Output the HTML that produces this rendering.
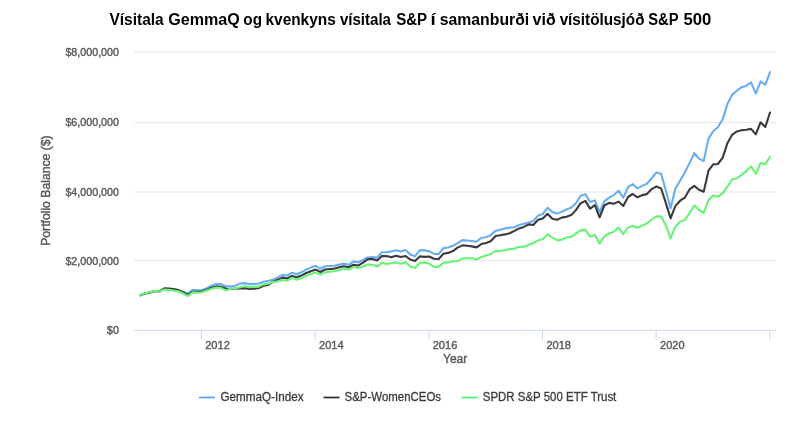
<!DOCTYPE html>
<html lang="is">
<head>
<meta charset="utf-8">
<title>Vísitala GemmaQ og kvenkyns vísitala S&amp;P</title>
<style>
html,body{margin:0;padding:0;background:#fff;}
body{width:800px;height:423px;overflow:hidden;font-family:"Liberation Sans",sans-serif;}
svg{display:block;}
.t text{font-family:"Liberation Sans",sans-serif;font-weight:bold;font-size:15.6px;fill:#000;}
.ax text{font-family:"Liberation Sans",sans-serif;font-size:11.7px;fill:#585858;stroke:#585858;stroke-width:0.4;}
.lg text{font-family:"Liberation Sans",sans-serif;font-size:12px;fill:#3c3c3c;stroke:#3c3c3c;stroke-width:0.3;}
.grid line{stroke:#e6e6e6;stroke-width:1;}
.xa line{stroke:#ccd6eb;stroke-width:1;}
.s{fill:none;stroke-width:2.1;stroke-linejoin:round;stroke-linecap:round;}
</style>
</head>
<body>
<svg width="800" height="423" viewBox="0 0 800 423">
<rect width="800" height="423" fill="#fff"/>
<g class="t">
<text y="24.6"><tspan x="109.43" textLength="54.29" lengthAdjust="spacingAndGlyphs">Vísitala</tspan> <tspan x="168.27" textLength="71.58" lengthAdjust="spacingAndGlyphs">GemmaQ</tspan> <tspan x="243.35" textLength="18.67" lengthAdjust="spacingAndGlyphs">og</tspan> <tspan x="265.48" textLength="70.32" lengthAdjust="spacingAndGlyphs">kvenkyns</tspan> <tspan x="339.89" textLength="51.13" lengthAdjust="spacingAndGlyphs">vísitala</tspan> <tspan x="396.13" textLength="30.75" lengthAdjust="spacingAndGlyphs">S&amp;P</tspan> <tspan x="430.55" textLength="5.14" lengthAdjust="spacingAndGlyphs">í</tspan> <tspan x="439.81" textLength="89.36" lengthAdjust="spacingAndGlyphs">samanburði</tspan> <tspan x="532.62" textLength="23.12" lengthAdjust="spacingAndGlyphs">við</tspan> <tspan x="559.64" textLength="84.92" lengthAdjust="spacingAndGlyphs">vísitölusjóð</tspan> <tspan x="648.17" textLength="30.05" lengthAdjust="spacingAndGlyphs">S&amp;P</tspan> <tspan x="683.43" textLength="27.86" lengthAdjust="spacingAndGlyphs">500</tspan></text>
</g>
<g class="grid"><line x1="134.2" x2="776.2" y1="51.90" y2="51.90"/><line x1="134.2" x2="776.2" y1="122.40" y2="122.40"/><line x1="134.2" x2="776.2" y1="192.05" y2="192.05"/><line x1="134.2" x2="776.2" y1="260.75" y2="260.75"/></g>
<g class="xa"><line x1="134.2" x2="776.2" y1="330.35" y2="330.35"/><line x1="201.3" x2="201.3" y1="330.35" y2="339.8"/><line x1="315.1" x2="315.1" y1="330.35" y2="339.8"/><line x1="428.8" x2="428.8" y1="330.35" y2="339.8"/><line x1="542.5" x2="542.5" y1="330.35" y2="339.8"/><line x1="656.1" x2="656.1" y1="330.35" y2="339.8"/><line x1="769.7" x2="769.7" y1="330.35" y2="339.8"/></g>
<g class="ax" text-anchor="end"><text x="119" y="56.3" textLength="53.6" lengthAdjust="spacingAndGlyphs">$8,000,000</text>
<text x="119" y="126.0" textLength="53.6" lengthAdjust="spacingAndGlyphs">$6,000,000</text>
<text x="119" y="195.5" textLength="53.6" lengthAdjust="spacingAndGlyphs">$4,000,000</text>
<text x="119" y="265.2" textLength="53.6" lengthAdjust="spacingAndGlyphs">$2,000,000</text>
<text x="119" y="333.8" textLength="12.2" lengthAdjust="spacingAndGlyphs">$0</text></g>
<g class="ax"><text x="205.2" y="349.0" textLength="24.6" lengthAdjust="spacingAndGlyphs">2012</text>
<text x="319.0" y="349.0" textLength="24.6" lengthAdjust="spacingAndGlyphs">2014</text>
<text x="432.7" y="349.0" textLength="24.6" lengthAdjust="spacingAndGlyphs">2016</text>
<text x="546.4" y="349.0" textLength="24.6" lengthAdjust="spacingAndGlyphs">2018</text>
<text x="660.0" y="349.0" textLength="24.6" lengthAdjust="spacingAndGlyphs">2020</text>
<text x="443.0" y="362.6" textLength="24.3" lengthAdjust="spacingAndGlyphs" style="font-size:12.3px">Year</text>
<text transform="translate(50.2,190.6) rotate(-90)" text-anchor="middle" textLength="110.5" style="font-size:12.4px" lengthAdjust="spacingAndGlyphs">Portfolio Balance ($)</text></g>
<polyline class="s" stroke="#68aef0" points="140.5,295.3 145.2,293.4 150.0,292.6 154.7,291.0 159.4,291.7 164.2,289.3 168.9,289.7 173.6,290.3 178.4,290.4 183.1,291.7 187.8,293.6 192.6,290.1 197.3,290.4 202.0,290.1 206.8,288.2 211.5,285.8 216.2,284.0 221.0,284.1 225.7,286.3 230.4,286.2 235.2,285.7 239.9,283.6 244.6,283.1 249.4,284.1 254.1,284.0 258.8,283.5 263.6,281.7 268.3,280.9 273.0,279.6 277.8,277.4 282.5,274.9 287.2,275.5 292.0,272.7 296.7,274.3 301.4,272.3 306.2,269.6 310.9,267.6 315.6,265.8 320.4,268.8 325.1,266.3 329.8,266.0 334.6,265.8 339.3,264.6 344.0,263.6 348.8,264.8 353.5,261.4 358.2,262.2 363.0,260.0 367.7,257.5 372.4,257.1 377.2,257.6 381.9,252.3 386.6,252.3 391.4,251.4 396.1,250.3 400.8,251.6 405.6,250.1 410.3,254.5 415.0,256.3 419.8,250.1 424.5,250.4 429.2,251.2 434.0,253.9 438.7,254.0 443.4,248.1 448.2,247.5 452.9,245.8 457.6,243.2 462.4,240.1 467.1,240.5 471.8,241.0 476.6,241.7 481.3,237.8 486.0,237.2 490.7,235.1 495.5,230.9 500.2,229.7 504.9,228.4 509.7,227.6 514.4,227.3 519.1,225.0 523.9,223.8 528.6,222.5 533.3,221.0 538.1,215.4 542.8,214.0 547.5,207.9 552.3,211.9 557.0,213.6 561.7,211.7 566.5,209.5 571.2,207.6 575.9,203.2 580.7,195.7 585.4,194.2 590.1,201.9 594.9,200.4 599.6,212.0 604.3,201.3 609.1,197.6 613.8,195.1 618.5,190.7 623.3,197.6 628.0,187.2 632.7,184.0 637.5,188.4 642.2,185.9 646.9,183.8 651.7,178.2 656.4,172.5 661.1,173.8 665.9,190.7 670.6,208.2 675.3,188.8 680.1,180.7 684.8,172.5 689.5,163.1 694.3,153.2 699.0,158.6 703.7,161.1 708.5,138.6 713.2,131.3 717.9,127.3 722.7,119.4 727.4,104.1 732.1,94.9 736.9,90.7 741.6,87.2 746.3,85.7 751.1,82.3 755.8,93.6 760.5,81.6 765.3,84.7 770.0,72.2"/>
<polyline class="s" stroke="#3a3a40" points="140.5,295.3 145.2,293.4 150.0,292.6 154.7,291.0 159.4,291.1 164.2,288.3 168.9,288.6 173.6,289.1 178.4,290.0 183.1,292.4 187.8,294.8 192.6,291.7 197.3,291.9 202.0,291.6 206.8,289.6 211.5,287.7 216.2,286.4 221.0,286.7 225.7,288.5 230.4,288.7 235.2,288.7 239.9,288.5 244.6,288.1 249.4,288.9 254.1,288.8 258.8,288.0 263.6,285.8 268.3,284.9 273.0,281.6 277.8,279.6 282.5,277.6 287.2,278.4 292.0,275.9 296.7,277.3 301.4,275.6 306.2,273.0 310.9,271.2 315.6,269.6 320.4,272.0 325.1,269.5 329.8,269.0 334.6,268.6 339.3,267.2 344.0,266.2 348.8,267.2 353.5,264.8 358.2,265.6 363.0,262.6 367.7,259.3 372.4,258.9 377.2,260.4 381.9,256.0 386.6,256.1 391.4,257.2 396.1,255.7 400.8,257.0 405.6,256.0 410.3,259.6 415.0,260.9 419.8,256.4 424.5,256.9 429.2,256.5 434.0,258.7 438.7,259.0 443.4,253.7 448.2,252.9 452.9,251.1 457.6,247.6 462.4,245.4 467.1,245.7 471.8,246.4 476.6,247.4 481.3,244.1 486.0,243.0 490.7,241.3 495.5,236.0 500.2,235.3 504.9,234.4 509.7,233.2 514.4,230.9 519.1,228.4 523.9,226.9 528.6,224.4 533.3,225.0 538.1,219.7 542.8,218.4 547.5,213.8 552.3,218.7 557.0,219.7 561.7,217.6 566.5,216.7 571.2,215.1 575.9,210.1 580.7,203.2 585.4,200.9 590.1,208.6 594.9,205.1 599.6,217.4 604.3,205.5 609.1,202.9 613.8,203.8 618.5,201.6 623.3,206.0 628.0,197.0 632.7,194.0 637.5,197.3 642.2,195.1 646.9,194.1 651.7,189.1 656.4,186.4 661.1,188.5 665.9,203.2 670.6,218.3 675.3,206.1 680.1,200.7 684.8,197.7 689.5,189.4 694.3,185.9 699.0,189.7 703.7,191.7 708.5,170.7 713.2,164.4 717.9,164.0 722.7,157.6 727.4,143.2 732.1,134.8 736.9,131.4 741.6,130.3 746.3,129.7 751.1,128.9 755.8,134.4 760.5,122.3 765.3,127.0 770.0,112.5"/>
<polyline class="s" stroke="#68f377" points="140.5,295.0 145.2,293.1 150.0,292.3 154.7,290.7 159.4,291.5 164.2,289.5 168.9,289.8 173.6,290.5 178.4,291.3 183.1,293.5 187.8,296.0 192.6,292.4 197.3,292.6 202.0,292.2 206.8,290.5 211.5,288.8 216.2,287.5 221.0,287.8 225.7,290.4 230.4,288.8 235.2,288.4 239.9,287.3 244.6,286.3 249.4,287.1 254.1,286.9 258.8,286.6 263.6,284.4 268.3,283.8 273.0,282.1 277.8,281.2 282.5,280.0 287.2,280.7 292.0,278.1 296.7,279.7 301.4,278.1 306.2,275.7 310.9,274.1 315.6,272.6 320.4,274.7 325.1,272.1 329.8,271.6 334.6,271.2 339.3,269.9 344.0,268.6 348.8,269.5 353.5,267.0 358.2,267.9 363.0,266.4 367.7,264.6 372.4,264.7 377.2,266.6 381.9,262.9 386.6,263.9 391.4,263.2 396.1,262.4 400.8,263.7 405.6,262.2 410.3,266.4 415.0,268.0 419.8,262.7 424.5,262.5 429.2,263.6 434.0,266.9 438.7,266.9 443.4,262.7 448.2,262.4 452.9,261.2 457.6,261.0 462.4,258.4 467.1,258.3 471.8,258.3 476.6,259.5 481.3,256.9 486.0,255.4 490.7,254.1 495.5,251.1 500.2,251.0 504.9,250.2 509.7,249.1 514.4,248.6 519.1,246.9 523.9,246.7 528.6,245.0 533.3,243.0 538.1,240.3 542.8,239.2 547.5,234.1 552.3,237.6 557.0,240.1 561.7,239.7 566.5,237.5 571.2,236.9 575.9,233.5 580.7,230.4 585.4,229.8 590.1,236.7 594.9,235.0 599.6,243.4 604.3,236.4 609.1,233.4 613.8,231.7 618.5,227.6 623.3,234.2 628.0,227.5 632.7,225.9 637.5,227.7 642.2,225.7 646.9,223.4 651.7,219.5 656.4,216.3 661.1,216.4 665.9,225.4 670.6,238.4 675.3,226.8 680.1,221.8 684.8,219.9 689.5,213.4 694.3,205.3 699.0,210.0 703.7,212.9 708.5,200.2 713.2,195.4 717.9,196.8 722.7,193.1 727.4,186.8 732.1,179.3 736.9,178.3 741.6,174.9 746.3,171.1 751.1,166.3 755.8,174.0 760.5,163.0 765.3,164.3 770.0,156.7"/>
<g class="lg">
<line x1="199" x2="215" y1="397.5" y2="397.5" stroke="#55a3f0" stroke-width="1.7"/>
<text x="220.5" y="401.4" textLength="83" lengthAdjust="spacingAndGlyphs">GemmaQ-Index</text>
<line x1="323.5" x2="339.5" y1="397.5" y2="397.5" stroke="#2a2a30" stroke-width="1.7"/>
<text x="344.6" y="401.4" textLength="96.4" lengthAdjust="spacingAndGlyphs">S&amp;P-WomenCEOs</text>
<line x1="461.5" x2="477.5" y1="397.5" y2="397.5" stroke="#50f064" stroke-width="1.7"/>
<text x="482.8" y="401.4" textLength="133.5" lengthAdjust="spacingAndGlyphs">SPDR S&amp;P 500 ETF Trust</text>
</g>
</svg>
</body>
</html>
